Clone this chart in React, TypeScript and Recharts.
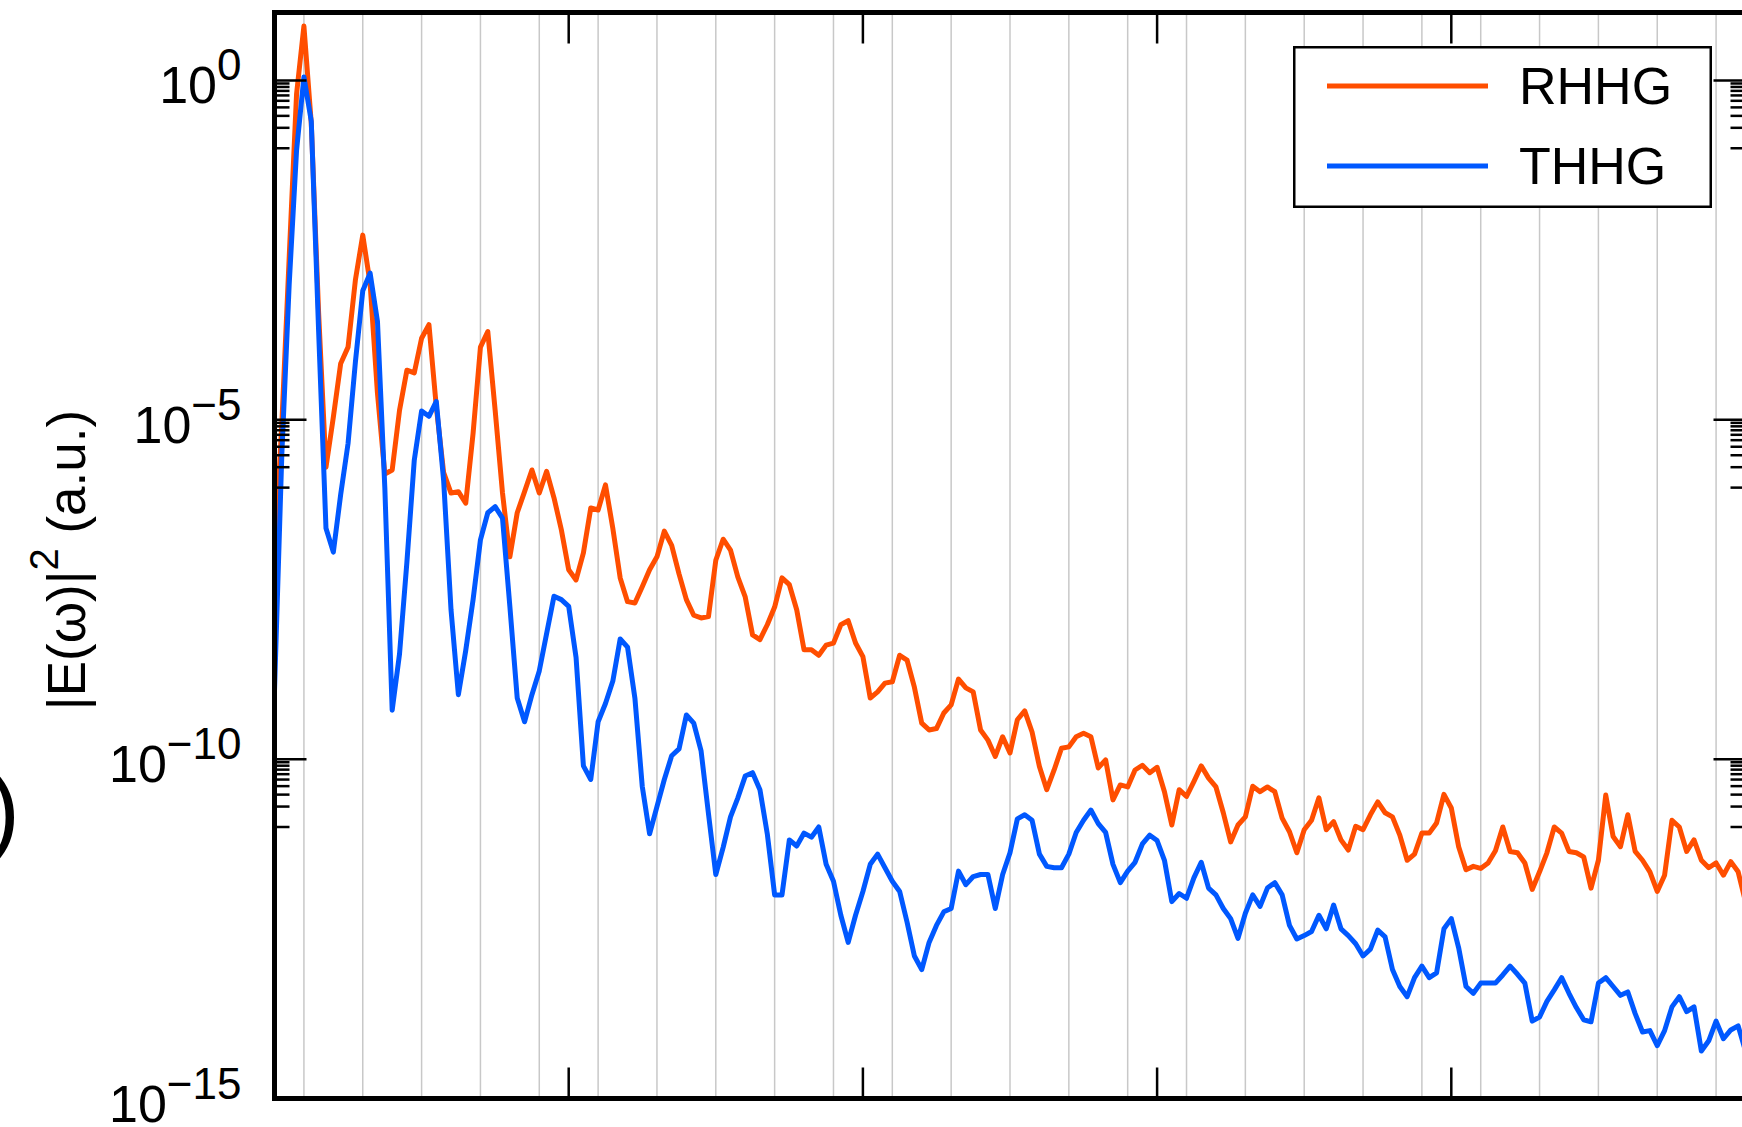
import { LineChart, Line, XAxis, YAxis, CartesianGrid, Legend } from "recharts"

// harmonic order, sampled every quarter order
const orders = [
  0, 0.25, 0.5, 0.75, 1, 1.25, 1.5, 1.75, 2, 2.25, 2.5, 2.75, 3, 3.25, 3.5, 3.75,
  4, 4.25, 4.5, 4.75, 5, 5.25, 5.5, 5.75, 6, 6.25, 6.5, 6.75, 7, 7.25, 7.5, 7.75,
  8, 8.25, 8.5, 8.75, 9, 9.25, 9.5, 9.75, 10, 10.25, 10.5, 10.75, 11, 11.25, 11.5, 11.75,
  12, 12.25, 12.5, 12.75, 13, 13.25, 13.5, 13.75, 14, 14.25, 14.5, 14.75, 15, 15.25, 15.5, 15.75,
  16, 16.25, 16.5, 16.75, 17, 17.25, 17.5, 17.75, 18, 18.25, 18.5, 18.75, 19, 19.25, 19.5, 19.75,
  20, 20.25, 20.5, 20.75, 21, 21.25, 21.5, 21.75, 22, 22.25, 22.5, 22.75, 23, 23.25, 23.5, 23.75,
  24, 24.25, 24.5, 24.75, 25, 25.25, 25.5, 25.75, 26, 26.25, 26.5, 26.75, 27, 27.25, 27.5, 27.75,
  28, 28.25, 28.5, 28.75, 29, 29.25, 29.5, 29.75, 30, 30.25, 30.5, 30.75, 31, 31.25, 31.5, 31.75,
  32, 32.25, 32.5, 32.75, 33, 33.25, 33.5, 33.75, 34, 34.25, 34.5, 34.75, 35, 35.25, 35.5, 35.75,
  36, 36.25, 36.5, 36.75, 37, 37.25, 37.5, 37.75, 38, 38.25, 38.5, 38.75, 39, 39.25, 39.5, 39.75,
  40, 40.25, 40.5, 40.75, 41, 41.25, 41.5, 41.75, 42, 42.25, 42.5, 42.75, 43, 43.25, 43.5, 43.75,
  44, 44.25, 44.5, 44.75, 45, 45.25, 45.5, 45.75, 46, 46.25, 46.5, 46.75, 47, 47.25, 47.5, 47.75,
  48, 48.25, 48.5, 48.75, 49, 49.25, 49.5, 49.75, 50,
]

// log10 of |E(w)|^2, reflected harmonics
const rhhgLog = [
  -7.1, -5.05, -2.6, -0.2, 0.8, -0.63, -3.43, -5.7,
  -4.96, -4.17, -3.93, -2.94, -2.28, -2.99, -4.61, -5.8,
  -5.74, -4.86, -4.27, -4.31, -3.8, -3.6, -4.81, -5.78,
  -6.08, -6.06, -6.23, -5.2, -3.93, -3.7, -4.86, -6.08,
  -7.02, -6.37, -6.06, -5.74, -6.08, -5.76, -6.15, -6.62,
  -7.21, -7.36, -6.96, -6.3, -6.33, -5.96, -6.6, -7.33,
  -7.68, -7.7, -7.46, -7.21, -7.02, -6.64, -6.85, -7.27,
  -7.65, -7.88, -7.92, -7.9, -7.07, -6.76, -6.92, -7.32,
  -7.61, -8.17, -8.24, -8.02, -7.76, -7.33, -7.43, -7.8,
  -8.39, -8.39, -8.47, -8.32, -8.29, -8.02, -7.96, -8.29,
  -8.49, -9.1, -9.01, -8.88, -8.86, -8.47, -8.54, -8.94,
  -9.47, -9.57, -9.55, -9.32, -9.2, -8.82, -8.95, -9.01,
  -9.57, -9.72, -9.96, -9.67, -9.91, -9.42, -9.29, -9.6,
  -10.11, -10.45, -10.16, -9.84, -9.82, -9.67, -9.62, -9.67,
  -10.13, -10.01, -10.6, -10.38, -10.41, -10.16, -10.09, -10.2,
  -10.12, -10.48, -10.97, -10.45, -10.55, -10.33, -10.1, -10.28,
  -10.41, -10.79, -11.22, -10.97, -10.85, -10.4, -10.48, -10.41,
  -10.48, -10.87, -11.07, -11.38, -11.04, -10.9, -10.57, -11.04,
  -10.92, -11.19, -11.34, -10.99, -11.04, -10.82, -10.63, -10.79,
  -10.85, -11.12, -11.49, -11.4, -11.09, -11.09, -10.94, -10.52,
  -10.72, -11.29, -11.63, -11.58, -11.61, -11.53, -11.35, -11.0,
  -11.36, -11.38, -11.53, -11.92, -11.66, -11.38, -11.0, -11.09,
  -11.36, -11.38, -11.44, -11.9, -11.49, -10.53, -11.14, -11.29,
  -10.82, -11.36, -11.49, -11.66, -11.95, -11.71, -10.9, -11.0,
  -11.36, -11.19, -11.49, -11.6, -11.53, -11.71, -11.51, -11.66,
  -12.1,
]

// log10 of |E(w)|^2, transmitted harmonics
const thhgLog = [
  -9.0, -5.5, -3.0, -1.03, 0.05, -0.6, -3.7, -6.6,
  -6.95, -6.1, -5.35, -4.15, -3.1, -2.84, -3.55, -6.0,
  -9.28, -8.45, -7.1, -5.6, -4.87, -4.95, -4.73, -5.9,
  -7.8, -9.05, -8.4, -7.65, -6.77, -6.37, -6.28, -6.45,
  -7.75, -9.1, -9.45, -9.05, -8.7, -8.15, -7.6, -7.65,
  -7.75, -8.5, -10.1, -10.3, -9.45, -9.18, -8.85, -8.23,
  -8.35, -9.1, -10.4, -11.1, -10.7, -10.3, -9.95, -9.85,
  -9.35, -9.47, -9.88, -10.8, -11.7, -11.3, -10.85, -10.57,
  -10.25, -10.2, -10.45, -11.1, -12.0, -12.0, -11.19, -11.28,
  -11.09, -11.15, -11.0, -11.55, -11.8, -12.3, -12.7, -12.3,
  -11.95, -11.55, -11.4, -11.6, -11.8, -11.95, -12.4, -12.9,
  -13.1, -12.7, -12.45, -12.25, -12.2, -11.65, -11.85, -11.73,
  -11.7, -11.7, -12.2, -11.7, -11.38, -10.88, -10.82, -10.9,
  -11.4, -11.58, -11.6, -11.6, -11.4, -11.08, -10.9, -10.75,
  -10.95, -11.08, -11.55, -11.82, -11.65, -11.52, -11.25, -11.12,
  -11.2, -11.49, -12.1, -11.98, -12.05, -11.75, -11.52, -11.9,
  -12.0, -12.2, -12.35, -12.64, -12.27, -12.0, -12.17, -11.9,
  -11.82, -12.0, -12.45, -12.65, -12.6, -12.54, -12.3, -12.5,
  -12.15, -12.5, -12.6, -12.72, -12.9, -12.8, -12.52, -12.62,
  -13.1, -13.35, -13.5, -13.22, -13.05, -13.22, -13.15, -12.5,
  -12.35, -12.78, -13.35, -13.45, -13.3, -13.3, -13.3, -13.18,
  -13.05, -13.17, -13.3, -13.86, -13.8, -13.57, -13.4, -13.22,
  -13.45, -13.66, -13.84, -13.87, -13.3, -13.22, -13.35, -13.48,
  -13.43, -13.75, -14.02, -14.0, -14.22, -14.0, -13.65, -13.5,
  -13.72, -13.65, -14.3, -14.15, -13.86, -14.12, -13.99, -13.93,
  -14.3,
]

// odd harmonics get a vertical grid line
const gridOrders = [
  1, 3, 5, 7, 9, 11, 13, 15, 17, 19, 21, 23, 25, 27, 29, 31, 33, 35, 37, 39, 41, 43, 45, 47, 49,
]
const xTicks = [10, 20, 30, 40]
const yMajor = [0, -5, -10, -15]
const minorSteps = [1, 2, 3, 4, 5, 6, 7, 8, 9]

const FONT = '"Liberation Sans", Arial, Helvetica, sans-serif'
const RED = "#ff4e00"
const BLUE = "#0058ff"

const data = orders.map((order, i) => ({ order, rhhg: rhhgLog[i], thhg: thhgLog[i] }))

// minor ticks fill the decade just under each labelled power
const yMinor = yMajor
  .filter((e) => e > -15)
  .flatMap((e) => minorSteps.map((m) => e - 1 + Math.log10(m)))
const yTicks = [...yMajor, ...yMinor]

const isMajor = (v: number) => yMajor.includes(v)

function LeftTick(props: any) {
  const { x, y, payload } = props
  const v = payload.value
  const major = isMajor(v)
  return (
    <g>
      <line x1={x} x2={x + (major ? 32 : 15)} y1={y} y2={y} stroke="#000" strokeWidth={2.5} />
      {major && (
        <text x={x - 33} y={y + 23} textAnchor="end" fontSize={52} fontFamily={FONT} fill="#000">
          10
          <tspan fontSize={44} dy={-23}>
            {v === 0 ? "0" : "\u2212" + Math.abs(v)}
          </tspan>
        </text>
      )}
    </g>
  )
}

function RightTick(props: any) {
  const { x, y, payload } = props
  const len = isMajor(payload.value) ? 32 : 15
  return <line x1={x - len} x2={x} y1={y} y2={y} stroke="#000" strokeWidth={2.5} />
}

function BottomTick(props: any) {
  const { x, y } = props
  return <line x1={x} x2={x} y1={y} y2={y - 31} stroke="#000" strokeWidth={2.5} />
}

function TopTick(props: any) {
  const { x, y } = props
  return <line x1={x} x2={x} y1={y} y2={y + 31} stroke="#000" strokeWidth={2.5} />
}

function AxisTitle() {
  return (
    <g fontFamily={FONT} fill="#000">
      <text x={85} y={560} fontSize={53} textAnchor="middle" transform="rotate(-90, 85, 560)">
        |E(ω)|
        <tspan fontSize={40} dy={-27}>2</tspan>
        <tspan dy={27}> (a.u.)</tspan>
      </text>
      <text x={20} y={842} fontSize={95} textAnchor="end">
        )
      </text>
    </g>
  )
}

function LegendBox(props: any) {
  const items = props.payload || []
  return (
    <svg width={421} height={162} style={{ display: "block" }}>
      <rect x={1.25} y={1.25} width={416.5} height={159.5} fill="#fff" stroke="#000" strokeWidth={2.5} />
      {items.map((p: any, i: number) => (
        <g key={p.value}>
          <line x1={34} x2={195} y1={40 + i * 80} y2={40 + i * 80} stroke={p.color} strokeWidth={5} />
          <text x={226} y={58 + i * 80} fontSize={52} fontFamily={FONT} fill="#000">
            {p.value}
          </text>
        </g>
      ))}
    </svg>
  )
}

const frame = { stroke: "#000", strokeWidth: 5, strokeLinecap: "square" as const }

// axes are 1px thick so they still render; margins absorb that pixel
export default function App() {
  return (
    <div
      style={{
        position: "absolute",
        left: 0,
        top: 0,
        width: 1742,
        height: 1127,
        overflow: "hidden",
        background: "#fff",
      }}
    >
      <LineChart
        width={1762}
        height={1127}
        data={data}
        margin={{ top: 11.5, right: 15.5, bottom: 27.5, left: 273.5 }}
      >
        <CartesianGrid horizontal={false} verticalValues={gridOrders} stroke="#c8c8c8" strokeWidth={1.5} />
        <XAxis
          dataKey="order"
          type="number"
          domain={[0, 50]}
          ticks={xTicks}
          interval={0}
          height={1}
          tickSize={0}
          tickMargin={0}
          tickLine={false}
          axisLine={frame}
          tick={<BottomTick />}
          allowDataOverflow
        />
        <XAxis
          xAxisId="top"
          orientation="top"
          dataKey="order"
          type="number"
          domain={[0, 50]}
          ticks={xTicks}
          interval={0}
          height={1}
          tickSize={0}
          tickMargin={0}
          tickLine={false}
          axisLine={frame}
          tick={<TopTick />}
          allowDataOverflow
        />
        <YAxis
          type="number"
          domain={[-15, 1]}
          ticks={yTicks}
          interval={0}
          width={1}
          tickSize={0}
          tickMargin={0}
          tickLine={false}
          axisLine={frame}
          tick={<LeftTick />}
          allowDataOverflow
          label={{ content: () => <AxisTitle /> }}
        />
        <YAxis
          yAxisId="right"
          orientation="right"
          type="number"
          domain={[-15, 1]}
          ticks={yTicks}
          interval={0}
          width={1}
          tickSize={0}
          tickMargin={0}
          tickLine={false}
          axisLine={false}
          tick={<RightTick />}
          allowDataOverflow
        />
        <Legend
          layout="horizontal"
          verticalAlign="middle"
          align="center"
          wrapperStyle={{ position: "absolute", left: 1293, top: 46, width: 421, height: 162, lineHeight: 0 }}
          content={<LegendBox />}
        />
        <Line
          dataKey="rhhg"
          name="RHHG"
          type="linear"
          stroke={RED}
          strokeWidth={5}
          strokeLinejoin="round"
          dot={false}
          isAnimationActive={false}
        />
        <Line
          dataKey="thhg"
          name="THHG"
          type="linear"
          stroke={BLUE}
          strokeWidth={5}
          strokeLinejoin="round"
          dot={false}
          isAnimationActive={false}
        />
      </LineChart>
    </div>
  )
}
